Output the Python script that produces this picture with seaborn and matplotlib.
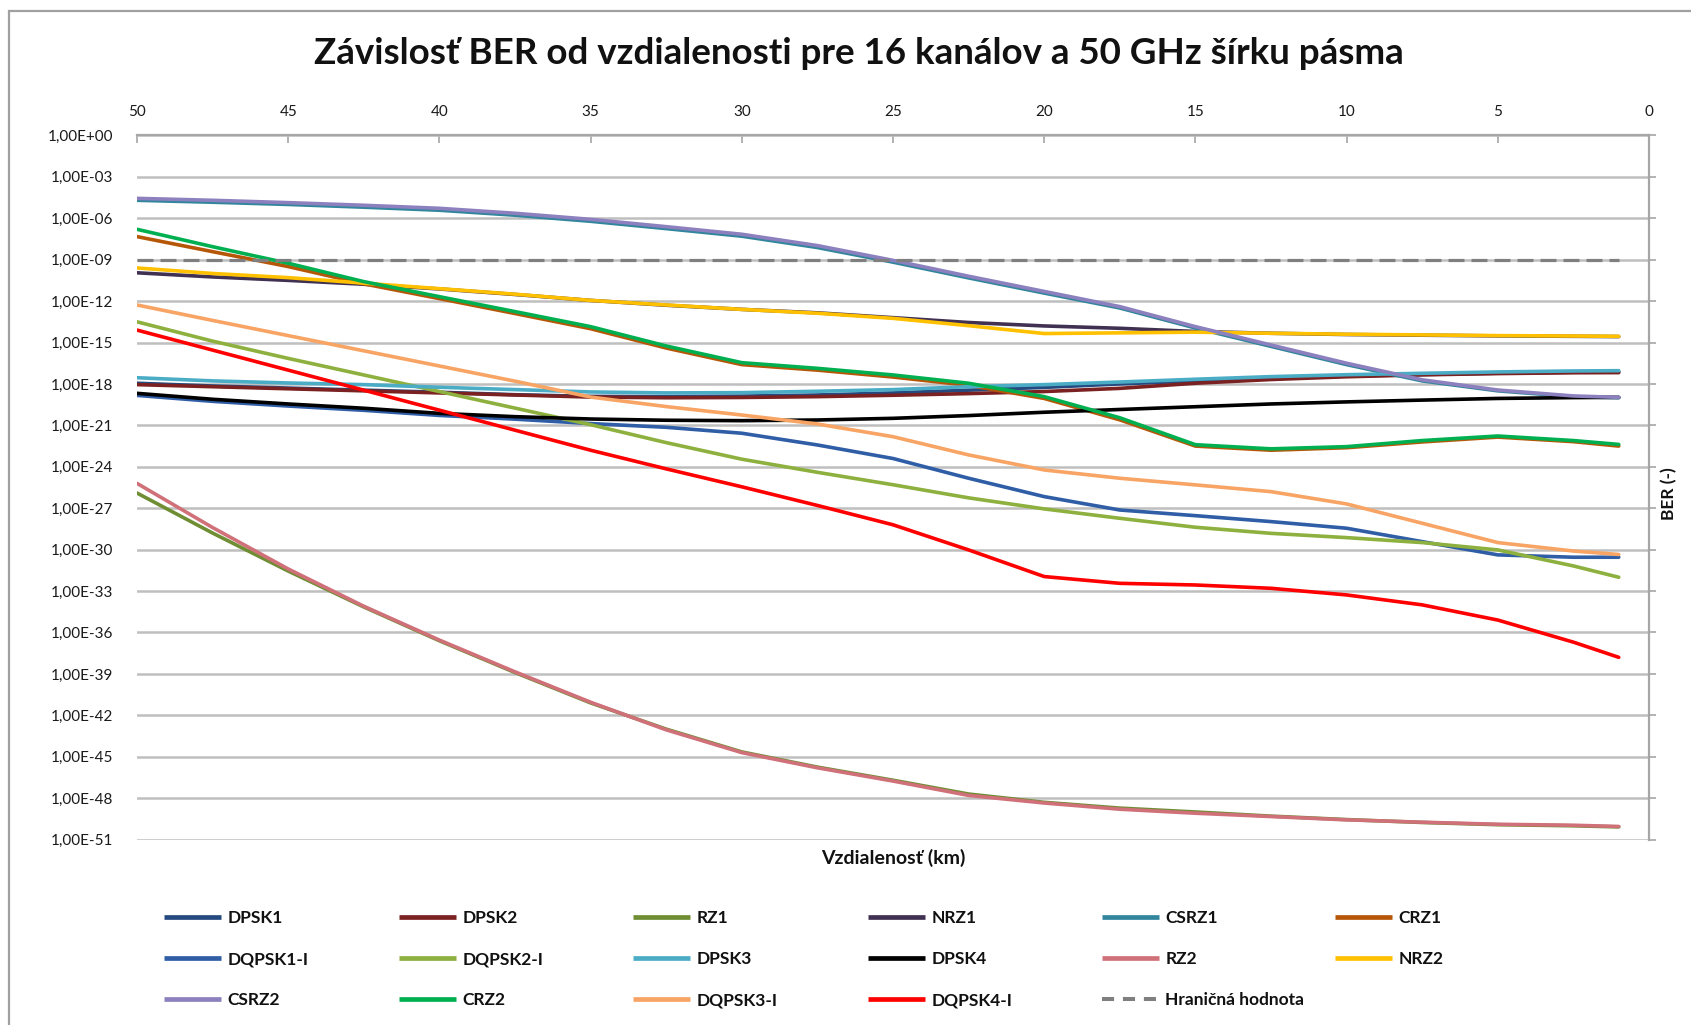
import numpy as np
import pandas as pd
import matplotlib
matplotlib.use("Agg")
import matplotlib.pyplot as plt
import seaborn as sns
from matplotlib.lines import Line2D
from matplotlib.patches import Rectangle
from matplotlib.ticker import NullLocator

# Distance along the fibre (km)
KM = [50, 47.5, 45, 42.5, 40, 37.5, 35, 32.5, 30, 27.5, 25, 22.5, 20,
      17.5, 15, 12.5, 10, 7.5, 5, 2.5, 1]

# BER of every format, stored as log10(BER)
DPSK1 = [-17.95, -18.15, -18.30, -18.45, -18.60, -18.78, -18.90, -18.92, -18.88, -18.80, -18.65,
         -18.45, -18.25, -18.00, -17.78, -17.58, -17.43, -17.32, -17.22, -17.15, -17.12]
DPSK2 = [-18.05, -18.20, -18.35, -18.50, -18.65, -18.80, -18.95, -19.00, -18.98, -18.92, -18.82,
         -18.70, -18.55, -18.32, -17.95, -17.68, -17.48, -17.34, -17.25, -17.19, -17.18]
RZ1 = [-25.90, -28.80, -31.55, -34.15, -36.60, -38.90, -41.10, -43.00, -44.65, -45.75, -46.70,
       -47.70, -48.30, -48.72, -49.00, -49.30, -49.55, -49.76, -49.92, -50.00, -50.08]
NRZ1 = [-9.95, -10.25, -10.50, -10.78, -11.12, -11.52, -11.95, -12.30, -12.60, -12.85, -13.20,
        -13.55, -13.80, -13.97, -14.20, -14.33, -14.42, -14.47, -14.52, -14.55, -14.57]
CSRZ1 = [-4.70, -4.84, -5.00, -5.20, -5.42, -5.78, -6.22, -6.75, -7.30, -8.12, -9.18,
         -10.32, -11.42, -12.50, -13.95, -15.28, -16.60, -17.78, -18.50, -18.92, -19.00]
CRZ1 = [-7.33, -8.42, -9.50, -10.75, -11.82, -12.90, -14.00, -15.40, -16.60, -17.00, -17.50,
        -18.10, -19.05, -20.60, -22.50, -22.80, -22.62, -22.20, -21.85, -22.18, -22.50]
DQPSK1_I = [-18.83, -19.26, -19.60, -19.91, -20.28, -20.55, -20.87, -21.14, -21.57, -22.42, -23.40,
            -24.83, -26.16, -27.13, -27.54, -27.97, -28.45, -29.42, -30.38, -30.55, -30.55]
DQPSK2_I = [-13.50, -14.90, -16.15, -17.35, -18.55, -19.75, -20.95, -22.25, -23.45, -24.40, -25.30,
            -26.25, -27.05, -27.73, -28.38, -28.82, -29.13, -29.49, -30.02, -31.18, -32.00]
DPSK3 = [-17.55, -17.78, -17.93, -18.05, -18.24, -18.41, -18.58, -18.65, -18.63, -18.53, -18.41,
         -18.20, -18.05, -17.86, -17.66, -17.47, -17.33, -17.23, -17.13, -17.06, -17.04]
DPSK4 = [-18.68, -19.11, -19.45, -19.76, -20.13, -20.37, -20.54, -20.63, -20.66, -20.61, -20.49,
         -20.29, -20.05, -19.85, -19.65, -19.45, -19.30, -19.17, -19.05, -18.99, -18.97]
RZ2 = [-25.20, -28.40, -31.40, -34.10, -36.55, -38.85, -41.05, -43.05, -44.70, -45.80, -46.76,
       -47.80, -48.35, -48.80, -49.09, -49.33, -49.57, -49.74, -49.89, -49.96, -50.05]
NRZ2 = [-9.60, -10.00, -10.30, -10.70, -11.10, -11.50, -11.95, -12.28, -12.60, -12.88, -13.25,
        -13.78, -14.35, -14.30, -14.25, -14.33, -14.40, -14.45, -14.50, -14.53, -14.55]
CSRZ2 = [-4.56, -4.70, -4.87, -5.06, -5.28, -5.64, -6.08, -6.61, -7.16, -7.98, -9.05,
         -10.20, -11.30, -12.40, -13.85, -15.18, -16.50, -17.70, -18.44, -18.87, -18.97]
CRZ2 = [-6.80, -8.06, -9.26, -10.59, -11.68, -12.76, -13.85, -15.25, -16.46, -16.87, -17.35,
        -17.95, -18.92, -20.45, -22.40, -22.70, -22.54, -22.10, -21.77, -22.10, -22.38]
DQPSK3_I = [-12.28, -13.40, -14.50, -15.60, -16.70, -17.80, -18.95, -19.64, -20.25, -20.90, -21.82,
            -23.14, -24.23, -24.83, -25.31, -25.80, -26.69, -28.09, -29.49, -30.10, -30.35]
DQPSK4_I = [-14.10, -15.55, -17.00, -18.45, -19.90, -21.35, -22.80, -24.15, -25.45, -26.80, -28.20,
            -30.02, -31.95, -32.44, -32.56, -32.80, -33.28, -34.00, -35.10, -36.70, -37.80]

# Limit value line
LIMIT_KM = [50, 1]
LIMIT_LOG = [-9, -9]

SERIES = [
    ("DPSK1", DPSK1, "#254A7F"),
    ("DPSK2", DPSK2, "#7B2121"),
    ("RZ1", RZ1, "#6F8E34"),
    ("NRZ1", NRZ1, "#403152"),
    ("CSRZ1", CSRZ1, "#31859C"),
    ("CRZ1", CRZ1, "#B65708"),
    ("DQPSK1-I", DQPSK1_I, "#2F5DA6"),
    ("DQPSK2-I", DQPSK2_I, "#8DB03E"),
    ("DPSK3", DPSK3, "#4BACC6"),
    ("DPSK4", DPSK4, "#000000"),
    ("RZ2", RZ2, "#D0717A"),
    ("NRZ2", NRZ2, "#FFC000"),
    ("CSRZ2", CSRZ2, "#8C80BE"),
    ("CRZ2", CRZ2, "#00B050"),
    ("DQPSK3-I", DQPSK3_I, "#F7A464"),
    ("DQPSK4-I", DQPSK4_I, "#FF0000"),
]
LIMIT_NAME = "Hraničná hodnota"
LIMIT_COLOR = "#7F7F7F"

W, H = 1691, 1025
GRID = "#BFBFBF"
AXIS = "#A6A6A6"
LW = 2.6

sns.set_theme(style="white")
plt.rcParams["font.family"] = ["Lato", "DejaVu Sans"]

fig = plt.figure(figsize=(W / 100, H / 100), dpi=100)
fig.patch.set_facecolor("white")

# plot area in pixels
x0, x1, y0, y1 = 137, 1649, 135.4, 839.6
ax = fig.add_axes([x0 / W, 1 - y1 / H, (x1 - x0) / W, (y1 - y0) / H])
ax.set_yscale("log")

handles = []
for name, vals, color in SERIES:
    df = pd.DataFrame({"km": KM, "ber": np.power(10.0, vals)})
    sns.lineplot(data=df, x="km", y="ber", color=color, lw=LW, ax=ax,
                 estimator=None, sort=False, legend=False,
                 solid_joinstyle="round", solid_capstyle="round")
    handles.append(Line2D([], [], color=color, lw=LW * 1.3, solid_capstyle="butt"))

lim_df = pd.DataFrame({"km": LIMIT_KM, "ber": np.power(10.0, LIMIT_LOG)})
sns.lineplot(data=lim_df, x="km", y="ber", color=LIMIT_COLOR, lw=2.3, ax=ax,
             estimator=None, sort=False, legend=False, linestyle=(0, (5, 2.2)))
handles.append(Line2D([], [], color=LIMIT_COLOR, lw=2.9, linestyle=(0, (3, 2.2))))
labels = [s[0] for s in SERIES] + [LIMIT_NAME]

ax.set_xlim(50, 0)
ax.set_ylim(1e-51, 1)

# log axis: a labelled line every three decades
exps = list(range(0, -52, -3))
ax.set_yticks([10.0 ** e for e in exps])
ax.set_yticklabels(["1,00E+00" if e == 0 else "1,00E-%02d" % (-e) for e in exps])
ax.yaxis.set_minor_locator(NullLocator())
ax.set_xticks(list(range(0, 51, 5)))
ax.xaxis.tick_top()
ax.set_xlabel("")
ax.set_ylabel("")

ax.grid(axis="y", color=GRID, lw=1.8)
ax.grid(axis="x", visible=False)
ax.set_axisbelow(True)
for side in ("left", "bottom"):
    ax.spines[side].set_visible(False)
for side in ("top", "right"):
    ax.spines[side].set_visible(True)
    ax.spines[side].set_color(AXIS)
    ax.spines[side].set_linewidth(1.6)

ax.tick_params(axis="x", which="major", top=True, bottom=False, labeltop=True,
               labelbottom=False, direction="in", length=6, width=1.2, color=AXIS,
               pad=12, labelsize=11, labelcolor="#1A1A1A")
ax.tick_params(axis="y", which="major", left=False, right=True, labelleft=True,
               labelright=False, direction="out", length=5, width=1.2, color=AXIS,
               pad=12, labelsize=11, labelcolor="#1A1A1A")

# titles
fig.text(859 / W, 1 - 54 / H, "Závislosť BER od vzdialenosti pre 16 kanálov a 50 GHz šírku pásma",
         ha="center", va="center", fontsize=26.5, fontweight="bold", color="#111111")
fig.text(893 / W, 1 - 858 / H, "Vzdialenosť (km)", ha="center", va="center",
         fontsize=14, fontweight="bold", color="#111111")
fig.text(1669 / W, 1 - 494 / H, "BER (-)", ha="center", va="center", rotation=90,
         fontsize=12.5, fontweight="bold", color="#111111")

# legend: 6 equal columns, 3 rows, filled row by row
col_x = [164, 399, 633, 868, 1102, 1335]
for c, cx in enumerate(col_x):
    idx = [r * 6 + c for r in range(3) if r * 6 + c < len(labels)]
    fig.legend([handles[i] for i in idx], [labels[i] for i in idx],
               loc="upper left", bbox_to_anchor=(cx / W, 1 - 910 / H),
               frameon=False, borderpad=0, borderaxespad=0, handlelength=3.3,
               handletextpad=0.35, labelspacing=1.45,
               prop={"size": 12.5, "weight": "bold"}, labelcolor="#111111")

# chart border
fig.patches.append(Rectangle((9 / W, -0.1), 1.2, 1.1 - 11 / H, transform=fig.transFigure,
                             fill=False, edgecolor="#A0A0A0", lw=1.6))

fig.savefig("out.png", dpi=100, facecolor="white")
